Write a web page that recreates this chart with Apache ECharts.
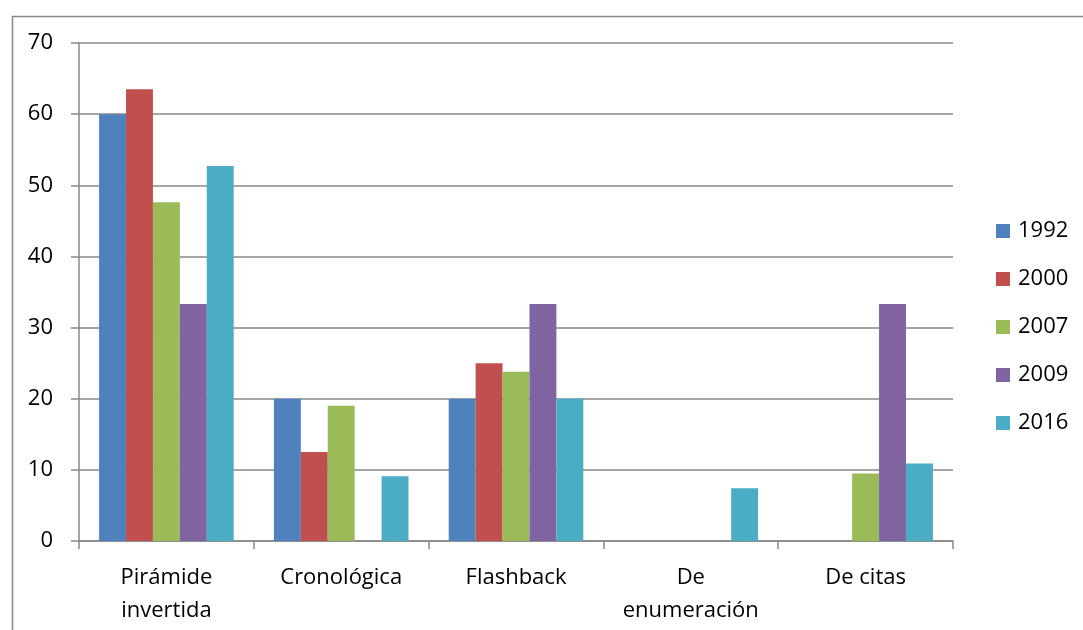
<!DOCTYPE html>
<html><head><meta charset="utf-8">
<script src="https://cdn.jsdelivr.net/npm/echarts@6/dist/echarts.min.js"></script>
<style>html,body{margin:0;padding:0;background:#fff}#c{width:1083px;height:630px}</style>
</head><body><div id="c"></div>
<script>
const categories = ['Pirámide\ninvertida', 'Cronológica', 'Flashback', 'De\nenumeración', 'De citas'];
const years = ['1992', '2000', '2007', '2009', '2016'];
const s1992 = [60.0, 20.0, 20.0, 0, 0];
const s2000 = [63.5, 12.5, 25.0, 0, 0];
const s2007 = [47.6, 19.0, 23.8, 0, 9.5];
const s2009 = [33.3, 0, 33.3, 0, 33.3];
const s2016 = [52.7, 9.1, 20.0, 7.4, 10.9];
const colors = ['#4F81BD', '#C0504D', '#9BBB59', '#8064A2', '#4BACC6'];
const seriesData = [s1992, s2000, s2007, s2009, s2016];
const font = '"Open Sans", "Liberation Sans", sans-serif';

const chart = echarts.init(document.getElementById('c'), null, {renderer: 'canvas'});
chart.setOption({
  animation: false,
  backgroundColor: '#fff',
  textStyle: {fontFamily: font},
  graphic: [{
    type: 'rect', left: 10, top: 14, shape: {width: 1072, height: 640},
    style: {fill: 'none', stroke: '#888', lineWidth: 1.5}, silent: true
  }],
  grid: {left: 79, right: 130, top: 43, bottom: 89},
  legend: {
    orient: 'vertical', left: 991, top: 215, itemWidth: 14, itemHeight: 14,
    itemGap: 26, icon: 'rect',
    textStyle: {fontSize: 22, lineHeight: 22, color: '#000', fontFamily: font, padding: [0, 0, 0, 3]},
    data: years
  },
  xAxis: {
    type: 'category', data: categories,
    axisLine: {lineStyle: {color: '#888', width: 1.5}},
    axisTick: {show: true, interval: 0, length: 8, lineStyle: {color: '#888', width: 1.5}},
    axisLabel: {interval: 0, fontSize: 22, color: '#000', lineHeight: 33, margin: 20, fontFamily: font}
  },
  yAxis: {
    type: 'value', min: 0, max: 70, interval: 10,
    axisLine: {show: true, lineStyle: {color: '#888', width: 1.5}},
    axisTick: {show: true, length: 8, lineStyle: {color: '#888', width: 1.5}},
    splitLine: {lineStyle: {color: '#888', width: 1.5}},
    axisLabel: {fontSize: 22, color: '#000', margin: 26, fontFamily: font}
  },
  series: years.map((y, i) => ({
    name: y, type: 'bar', data: seriesData[i],
    barGap: '0%', barCategoryGap: '23%',
    itemStyle: {color: colors[i]}
  }))
});
</script></body></html>
